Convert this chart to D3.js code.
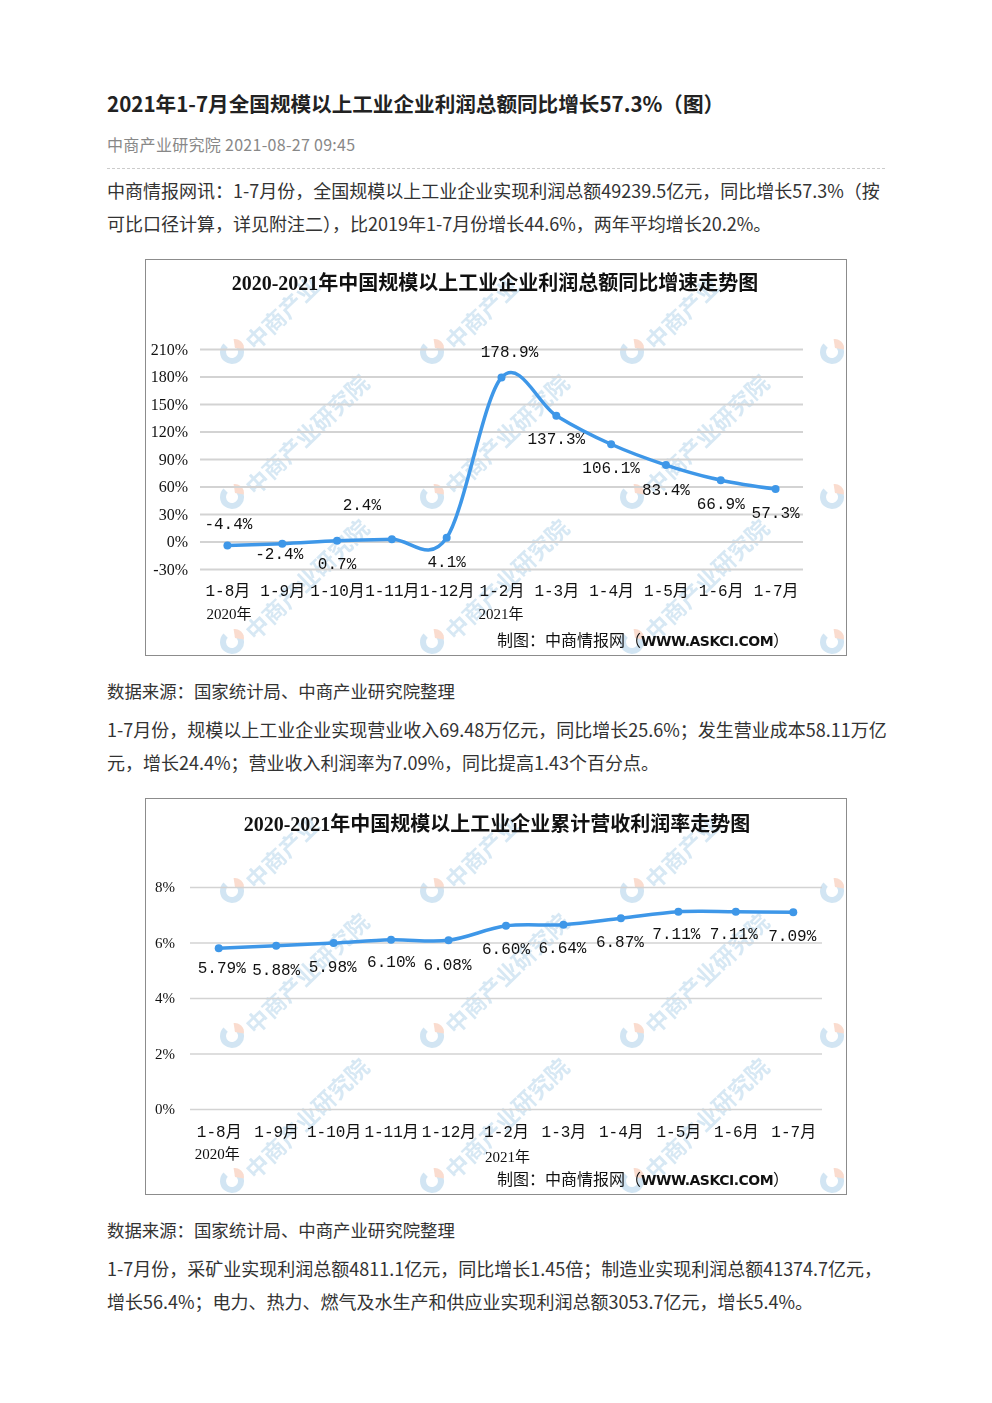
<!DOCTYPE html>
<html>
<head>
<meta charset="utf-8">
<script src="https://cdn.jsdelivr.net/npm/d3@7/dist/d3.min.js"></script>
<style>
  body { margin: 0; background: #fff; width: 992px; height: 1403px; position: relative; font-family: "Noto Sans CJK SC", "Noto Sans", sans-serif; color: #333; }
  .ln { position: absolute; left: 107px; white-space: nowrap; line-height: 1; }
  .h1 { font-size: 20.6px; font-weight: bold; color: #222; }
  .meta { font-size: 16px; color: #888; letter-spacing: 0.3px; }
  .p { font-size: 18px; color: #333; }
  .src { font-size: 17.4px; color: #333; }
  .rule { position: absolute; left: 107px; width: 778px; top: 168px; border-top: 1px dashed #ccc; }
  .chart { position: absolute; left: 145px; }
</style>
</head>
<body>
<div class="ln h1" style="top:93px">2021年1-7月全国规模以上工业企业利润总额同比增长57.3%（图）</div>
<div class="ln meta" style="top:136px">中商产业研究院 2021-08-27 09:45</div>
<div class="rule"></div>
<div class="ln p" style="top:181px">中商情报网讯：1-7月份，全国规模以上工业企业实现利润总额49239.5亿元，同比增长57.3%（按</div>
<div class="ln p" style="top:214px">可比口径计算，详见附注二），比2019年1-7月份增长44.6%，两年平均增长20.2%。</div>
<div id="chart1" class="chart" style="top:259px"></div>
<div class="ln src" style="top:682px">数据来源：国家统计局、中商产业研究院整理</div>
<div class="ln p" style="top:720px">1-7月份，规模以上工业企业实现营业收入69.48万亿元，同比增长25.6%；发生营业成本58.11万亿</div>
<div class="ln p" style="top:753px">元，增长24.4%；营业收入利润率为7.09%，同比提高1.43个百分点。</div>
<div id="chart2" class="chart" style="top:798px"></div>
<div class="ln src" style="top:1221px">数据来源：国家统计局、中商产业研究院整理</div>
<div class="ln p" style="top:1259px">1-7月份，采矿业实现利润总额4811.1亿元，同比增长1.45倍；制造业实现利润总额41374.7亿元，</div>
<div class="ln p" style="top:1292px">增长56.4%；电力、热力、燃气及水生产和供应业实现利润总额3053.7亿元，增长5.4%。</div>
<script>
// Data
const months = ["1-8月", "1-9月", "1-10月", "1-11月", "1-12月", "1-2月", "1-3月", "1-4月", "1-5月", "1-6月", "1-7月"];
const yearLabels = ["2020年", "2021年"];
const profitGrowth = [-4.4, -2.4, 0.7, 2.4, 4.1, 178.9, 137.3, 106.1, 83.4, 66.9, 57.3];
const profitTicks = [-30, 0, 30, 60, 90, 120, 150, 180, 210];
const profitText = ["-4.4%", "-2.4%", "0.7%", "2.4%", "4.1%", "178.9%", "137.3%", "106.1%", "83.4%", "66.9%", "57.3%"];
const marginRate = [5.79, 5.88, 5.98, 6.10, 6.08, 6.60, 6.64, 6.87, 7.11, 7.11, 7.09];
const marginTicks = [0, 2, 4, 6, 8];
const marginText = ["5.79%", "5.88%", "5.98%", "6.10%", "6.08%", "6.60%", "6.64%", "6.87%", "7.11%", "7.11%", "7.09%"];

// label nudges (layout only)
const profitLabelOffset = [[1, -22], [-3, 10], [0, 23], [-30, -35], [0, 24], [8, -26], [0, 23], [0, 23], [0, 24], [0, 23], [0, 23]];
const marginLabelOffset = [[3, 19], [0, 24], [-1, 23], [0, 22], [-1, 24], [0, 23], [-1, 23], [-1, 23], [-2, 22], [-2, 22], [-1, 23]];

const W = 702, H = 397;
const lineColor = "#3e97e8";
const numFont = "'Liberation Mono', 'Noto Sans CJK SC', monospace";
const serifFont = "'Liberation Serif', 'Noto Sans CJK SC', serif";
const wmText = "中商产业研究院";

function drawChart(sel, cfg) {
    const svg = d3.select(sel).append("svg")
        .attr("width", W)
        .attr("height", H)
        .style("display", "block");

    svg.append("rect")
        .attr("x", 0.5).attr("y", 0.5)
        .attr("width", W - 1).attr("height", H - 1)
        .attr("fill", "#fff")
        .attr("stroke", "#8c8c8c");

    // watermark tiles, only glyphs that sit fully inside the frame
    const wm = svg.append("g").attr("opacity", 0.4);
    const ang = -44 * Math.PI / 180;
    for (let i = -1; i < 4; i++) {
        for (let j = -1; j < 3; j++) {
            const cx = 87 + 200 * i, cy = 93 + 145 * j;
            if (cx > 12 && cx < W - 12 && cy > 12 && cy < H - 12) {
                const g = wm.append("g").attr("transform", `translate(${cx},${cy})`);
                g.append("path")
                    .attr("d", d3.arc()({ innerRadius: 6, outerRadius: 12, startAngle: Math.PI * 0.15, endAngle: Math.PI * 1.75 }))
                    .attr("fill", "#8fbfe0");
                g.append("path")
                    .attr("d", d3.arc()({ innerRadius: 0, outerRadius: 9, startAngle: -Math.PI * 0.05, endAngle: Math.PI * 0.55 }))
                    .attr("transform", "translate(3,-4)")
                    .attr("fill", "#f2a987");
            }
            wmText.split("").forEach((ch, k) => {
                const px = cx + 26 + k * 23 * Math.cos(ang);
                const py = cy - 14 + k * 23 * Math.sin(ang);
                if (px < 18 || px > W - 18 || py < 18 || py > H - 18) return;
                wm.append("text")
                    .attr("transform", `translate(${px},${py}) rotate(-44)`)
                    .attr("text-anchor", "middle")
                    .attr("dy", "0.35em")
                    .attr("font-size", 23)
                    .attr("font-weight", "bold")
                    .attr("fill", "#9cc6e3")
                    .text(ch);
            });
        }
    }

    svg.append("text")
        .attr("x", cfg.titleX).attr("y", cfg.titleY)
        .attr("text-anchor", "middle")
        .attr("dy", "0.35em")
        .attr("font-family", serifFont)
        .attr("font-size", 20)
        .attr("font-weight", "bold")
        .attr("fill", "#111")
        .text(cfg.title);

    const x = d3.scalePoint()
        .domain(months)
        .range(cfg.xRange)
        .padding(0.5);

    const y = d3.scaleLinear()
        .domain(cfg.yDomain)
        .range(cfg.yRange);

    // grid + y labels
    const yAxis = svg.append("g")
        .attr("class", "y-axis")
        .attr("transform", `translate(${cfg.xRange[0]},0)`)
        .call(d3.axisLeft(y).tickValues(cfg.ticks).tickSize(-(cfg.xRange[1] - cfg.xRange[0])).tickPadding(cfg.tickPad).tickFormat(d => d + "%"));
    yAxis.select(".domain").remove();
    yAxis.selectAll("line").attr("stroke", "#d3d3d3").attr("stroke-width", cfg.gridW);
    yAxis.selectAll("text")
        .attr("fill", "#111")
        .attr("font-family", serifFont)
        .attr("font-size", cfg.tickSize);

    // x labels
    const xAxis = svg.append("g")
        .attr("class", "x-axis")
        .attr("transform", `translate(0,${cfg.xLabelY})`)
        .call(d3.axisBottom(x).tickSize(0).tickPadding(0));
    xAxis.select(".domain").remove();
    xAxis.selectAll("text")
        .attr("dy", "0.35em")
        .attr("fill", "#111")
        .attr("font-family", numFont)
        .attr("font-size", 16);

    // year labels
    svg.selectAll(".year")
        .data(yearLabels)
        .enter()
        .append("text")
        .attr("class", "year")
        .attr("x", (d, i) => x(months[i === 0 ? 0 : 5]) + cfg.yearDx[i])
        .attr("y", (d, i) => cfg.yearY[i])
        .attr("dy", "0.35em")
        .attr("font-family", serifFont)
        .attr("font-size", 15)
        .attr("fill", "#111")
        .text(d => d);

    // line
    const line = d3.line()
        .x((d, i) => x(months[i]))
        .y(d => y(d))
        .curve(d3.curveCardinal.tension(0));

    svg.append("path")
        .datum(cfg.values)
        .attr("fill", "none")
        .attr("stroke", lineColor)
        .attr("stroke-width", 3.5)
        .attr("stroke-linejoin", "round")
        .attr("d", line);

    svg.selectAll(".dot")
        .data(cfg.values)
        .enter()
        .append("circle")
        .attr("class", "dot")
        .attr("cx", (d, i) => x(months[i]))
        .attr("cy", d => y(d))
        .attr("r", 4)
        .attr("fill", lineColor);

    svg.selectAll(".val")
        .data(cfg.values)
        .enter()
        .append("text")
        .attr("class", "val")
        .attr("x", (d, i) => x(months[i]) + cfg.offsets[i][0])
        .attr("y", (d, i) => y(d) + cfg.offsets[i][1])
        .attr("dy", "0.35em")
        .attr("text-anchor", "middle")
        .attr("font-family", numFont)
        .attr("font-size", 16)
        .attr("fill", "#111")
        .text((d, i) => cfg.labels[i]);

    // credit
    const credit = svg.append("text")
        .attr("x", 352).attr("y", cfg.creditY)
        .attr("dy", "0.35em")
        .attr("font-size", 16)
        .attr("fill", "#111");
    credit.append("tspan").attr("font-family", "'Noto Sans CJK SC', sans-serif").text("制图：中商情报网（");
    credit.append("tspan").attr("font-family", "'DejaVu Sans', sans-serif").attr("font-size", 14).attr("font-weight", "bold").attr("letter-spacing", "-0.5").text("WWW.ASKCI.COM");
    credit.append("tspan").attr("font-family", "'Noto Sans CJK SC', sans-serif").text("）");
}

drawChart("#chart1", {
    title: "2020-2021年中国规模以上工业企业利润总额同比增速走势图",
    titleX: 350, titleY: 24,
    values: profitGrowth, labels: profitText, offsets: profitLabelOffset,
    ticks: profitTicks, yDomain: [-30, 210], yRange: [310, 90],
    xRange: [55, 658], xLabelY: 331,
    tickPad: 12, tickSize: 16, gridW: 2,
    yearDx: [-21, -23], yearY: [355, 355],
    creditY: 381
});

drawChart("#chart2", {
    title: "2020-2021年中国规模以上工业企业累计营收利润率走势图",
    titleX: 352, titleY: 26,
    values: marginRate, labels: marginText, offsets: marginLabelOffset,
    ticks: marginTicks, yDomain: [0, 8], yRange: [311, 89],
    xRange: [45, 677], xLabelY: 333,
    tickPad: 15, tickSize: 15, gridW: 1.5,
    yearDx: [-24, -21], yearY: [356, 359],
    creditY: 381
});
</script>
</body>
</html>
